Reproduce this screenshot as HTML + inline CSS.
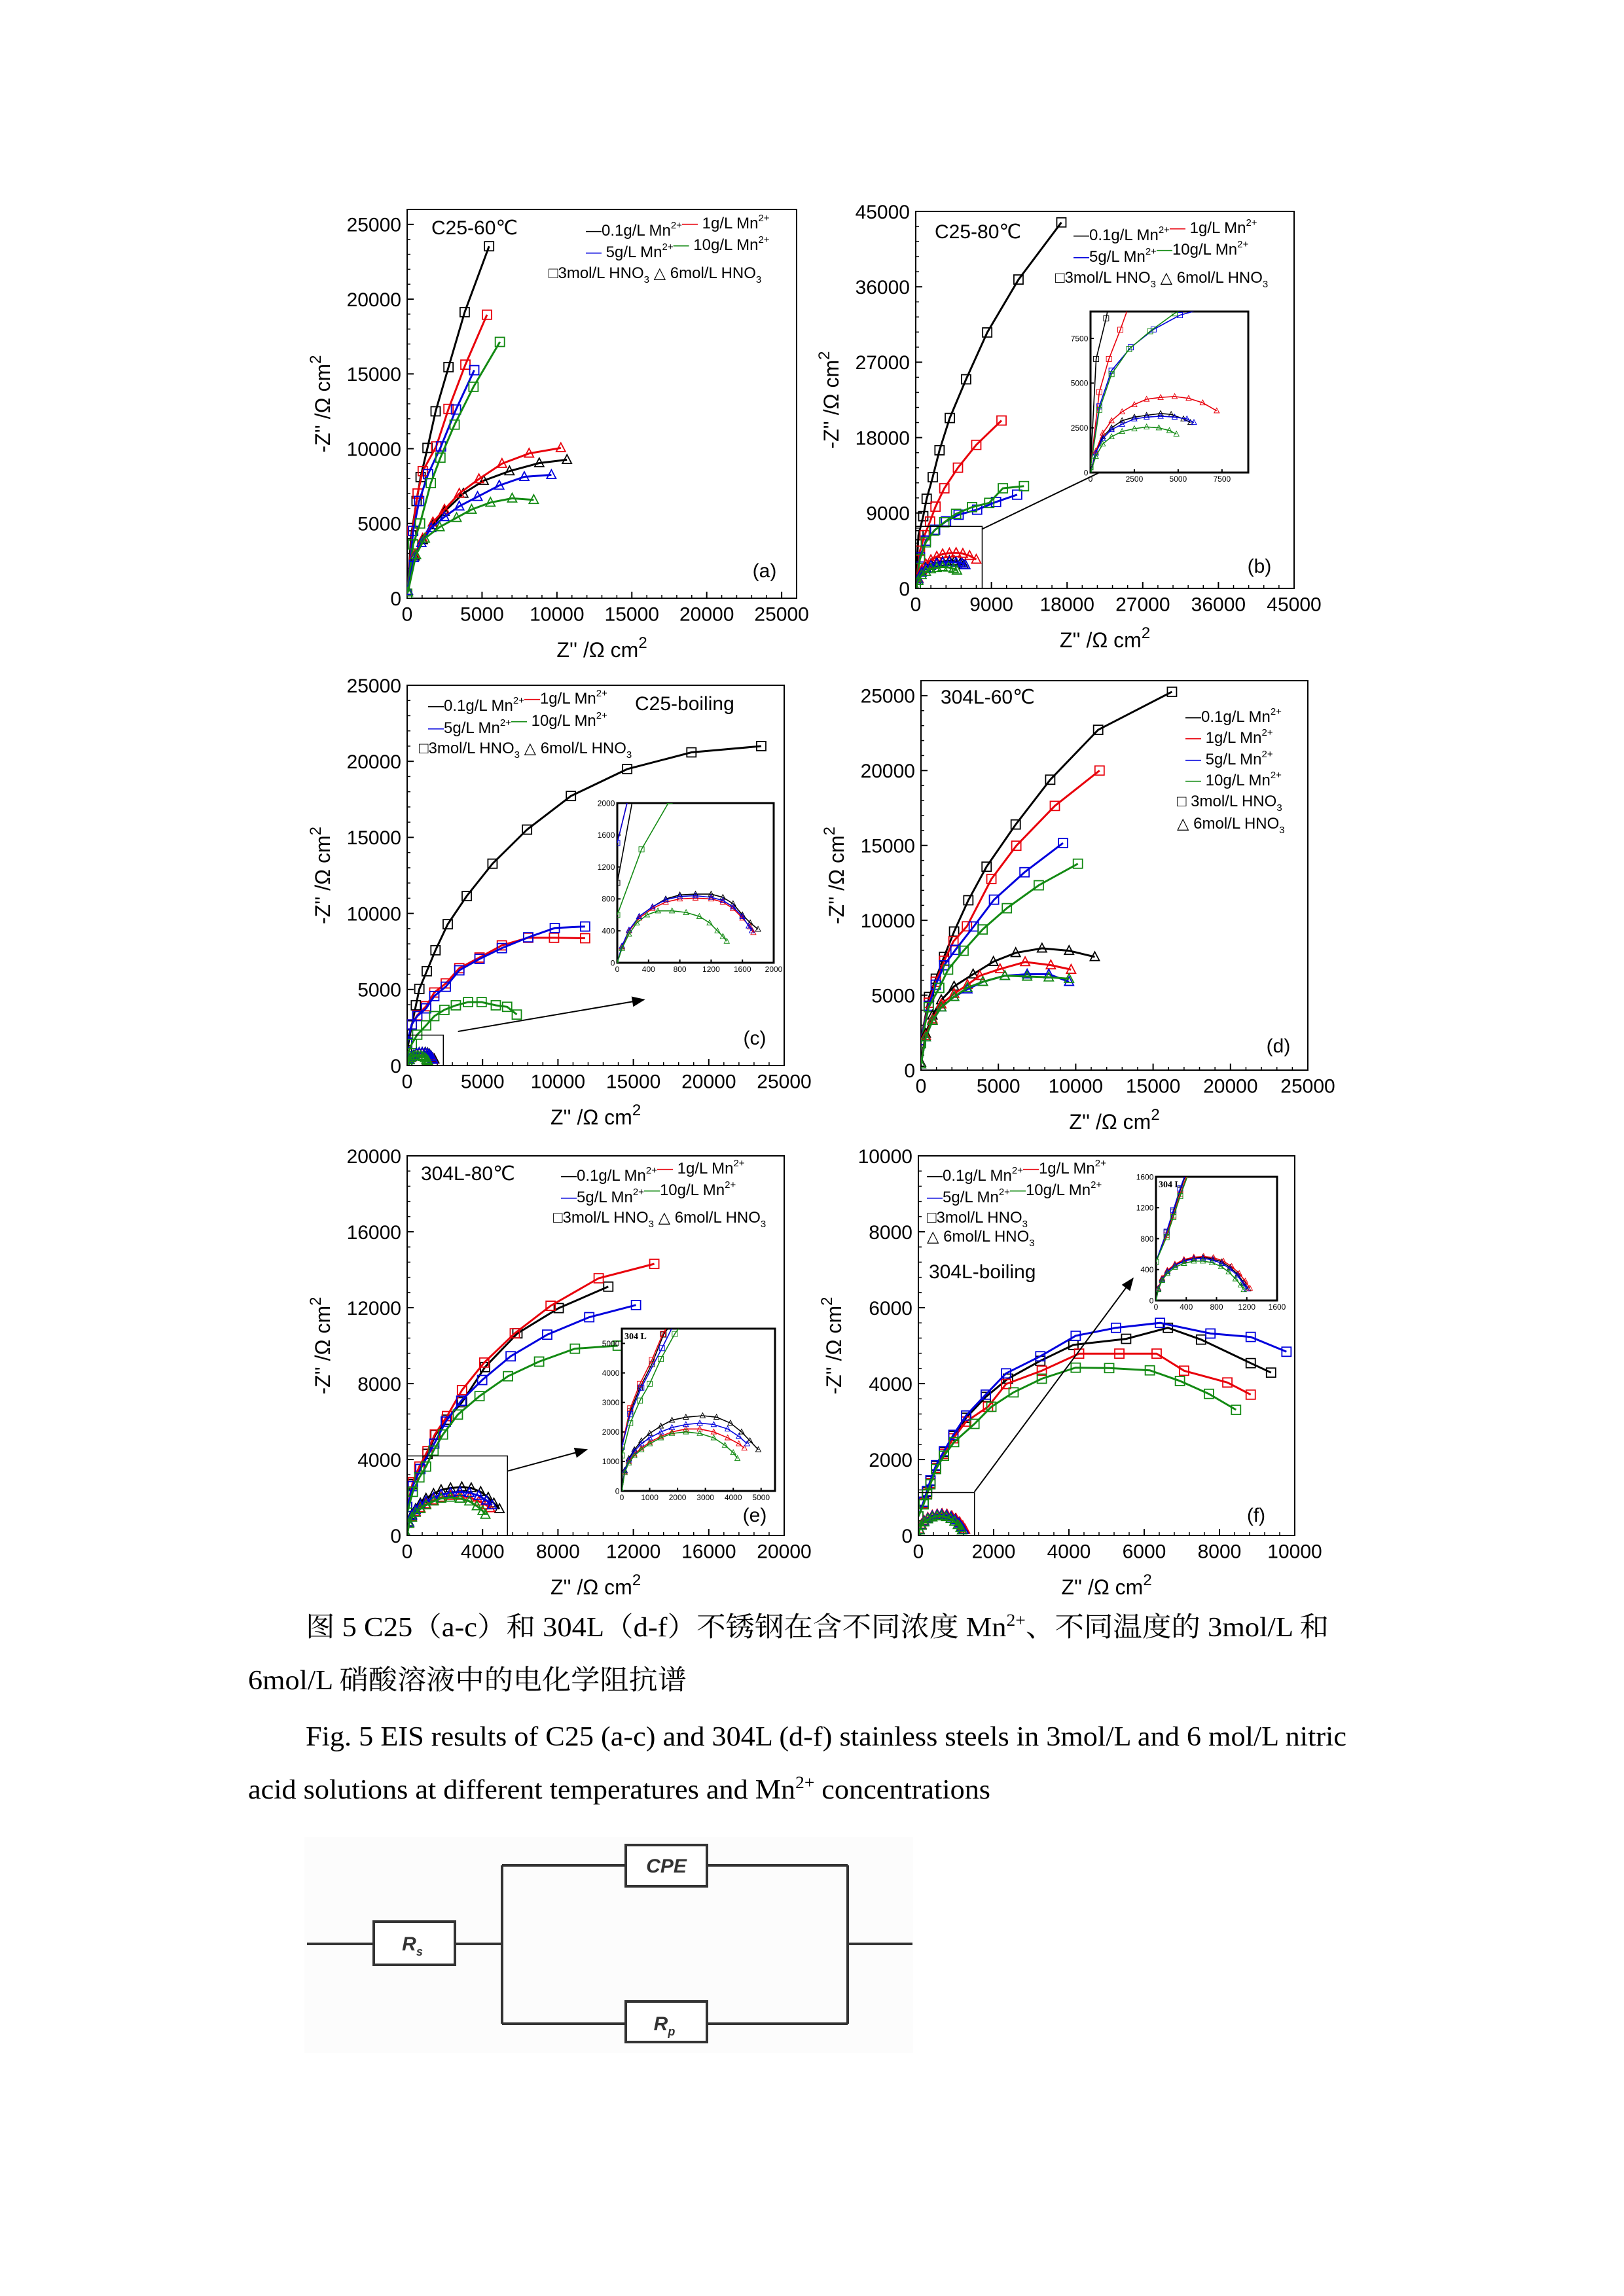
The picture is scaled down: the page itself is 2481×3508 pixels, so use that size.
<!DOCTYPE html>
<html><head><meta charset="utf-8"><style>
html,body{margin:0;padding:0;background:#fff;}
svg{display:block;}
</style></head><body>
<svg id="page" xmlns="http://www.w3.org/2000/svg" width="2481" height="3508" viewBox="0 0 2481 3508" font-family="Liberation Sans, sans-serif">
<rect x="0" y="0" width="2481" height="3508" fill="#fff"/>
<g id="charts"></g>
<g transform="translate(0,-21)" font-family="Liberation Serif, Noto Serif CJK SC, serif" font-size="42" fill="#000">
<text x="467" y="2521" textLength="1563" lengthAdjust="spacingAndGlyphs">图 5 C25（a-c）和 304L（d-f）不锈钢在含不同浓度 Mn<tspan font-size="26" dy="-16">2+</tspan><tspan dy="16">、不同温度的 3mol/L 和</tspan></text>
<text x="379" y="2602" textLength="670" lengthAdjust="spacingAndGlyphs">6mol/L 硝酸溶液中的电化学阻抗谱</text>
<text x="467" y="2688" textLength="1590" lengthAdjust="spacingAndGlyphs">Fig. 5 EIS results of C25 (a-c) and 304L (d-f) stainless steels in 3mol/L and 6 mol/L nitric</text>
<text x="379" y="2769" textLength="1134" lengthAdjust="spacingAndGlyphs">acid solutions at different temperatures and Mn<tspan font-size="26" dy="-16">2+</tspan><tspan dy="16"> concentrations</tspan></text>
</g>
<g transform="translate(0,-23)">
<g stroke="#333" stroke-width="4" fill="none">
<rect x="465" y="2830" width="930" height="330" fill="#fcfcfc" stroke="none"/>
<line x1="469" y1="2993" x2="571" y2="2993"/>
<rect x="571" y="2959" width="124" height="66" fill="#fff"/>
<line x1="695" y1="2993" x2="767" y2="2993"/>
<line x1="767" y1="2873" x2="767" y2="3115"/>
<line x1="767" y1="2873" x2="956" y2="2873"/>
<rect x="956" y="2842" width="124" height="63" fill="#fff"/>
<line x1="1080" y1="2873" x2="1295" y2="2873"/>
<line x1="767" y1="3115" x2="956" y2="3115"/>
<rect x="956" y="3081" width="124" height="62" fill="#fff"/>
<line x1="1080" y1="3115" x2="1295" y2="3115"/>
<line x1="1295" y1="2873" x2="1295" y2="3115"/>
<line x1="1295" y1="2993" x2="1394" y2="2993"/>
</g>
<g font-family="Liberation Sans, sans-serif" font-weight="bold" font-style="italic" font-size="30" fill="#333" text-anchor="middle">
<text x="630" y="3003">R<tspan font-size="18" dy="8">s</tspan></text>
<text x="1018" y="2884">CPE</text>
<text x="1015" y="3125">R<tspan font-size="18" dy="8">p</tspan></text>
</g>
</g>
</svg>
<script>
// ---------- data: [Z', -Z''] pairs ----------
// Panel a (C25-60C)
const a_k3=[[0,200],[270,4200],[630,6500],[900,8100],[1360,10050],[1900,12500],[2760,15450],[3840,19130],[5470,23540]];
const a_r3=[[0,200],[350,4500],[700,7000],[1040,8500],[1940,10150],[2760,12660],[3890,15620],[5330,18960]];
const a_b3=[[0,200],[400,4500],[800,6500],[1400,8300],[2260,10150],[3260,12620],[4480,15250]];
const a_g3=[[0,300],[400,3600],[860,5000],[1580,7700],[2220,9400],[3170,11610],[4430,14140],[6190,17140]];
const a_k6=[[50,500],[500,2800],[1040,3900],[1720,4900],[2490,5800],[3750,7000],[5110,7860],[6830,8500],[8820,9040],[10670,9260]];
const a_r6=[[50,500],[500,2900],[1040,4000],[1720,5080],[2490,5930],[3480,7000],[4790,7970],[6330,9000],[8140,9680],[10260,10050]];
const a_b6=[[50,500],[450,2700],[950,3700],[1600,4700],[2490,5440],[3480,6150],[4700,6790],[6150,7540],[7820,8120],[9630,8250]];
const a_g6=[[50,400],[590,2900],[1180,4000],[2170,4760],[3300,5380],[4300,5930],[5560,6400],[7010,6680],[8450,6580]];
// Panel b (C25-80C)
const b_k3=[[0,300],[320,6350],[890,8620],[1300,10700],[2020,13270],[2830,16490],[4050,20340],[5990,24960],[8500,30550],[12220,36870],[17320,43690]];
const b_r3=[[0,300],[500,4500],[1050,6350],[1700,7980],[2350,9760],[3400,11950],[5020,14410],[7200,17130],[10200,20040]];
const b_b3=[[0,300],[500,3700],[1200,5700],[2300,7000],[3600,8000],[5100,8800],[7300,9400],[9550,10320],[12060,11190]];
const b_g3=[[0,300],[500,3500],[1200,5500],[2200,6900],[3400,7900],[4800,8900],[6700,9700],[8740,10210],[10360,11950],[12870,12210]];
const b_k6=[[0,0],[300,1100],[700,2000],[1200,2500],[1800,2900],[2500,3100],[3200,3200],[4000,3300],[4600,3250],[5300,3000],[5700,2800]];
const b_r6=[[0,0],[300,1200],[700,2200],[1200,2900],[1800,3400],[2500,3800],[3200,4100],[4000,4200],[4800,4250],[5600,4150],[6400,3900],[7200,3450]];
const b_b6=[[0,0],[300,1100],[700,1900],[1200,2400],[1800,2700],[2500,3000],[3200,3100],[4000,3150],[4800,3100],[5500,3000],[5900,2800]];
const b_g6=[[0,0],[300,900],[700,1600],[1200,2000],[1800,2300],[2500,2450],[3200,2550],[3900,2500],[4500,2350],[4900,2150]];
// Panel c (C25-boiling)
const c_k3=[[0,1000],[310,2640],[580,3960],[810,5040],[1300,6200],[1880,7580],[2690,9290],[3950,11140],[5660,13270],[7950,15510],[10860,17720],[14590,19490],[18850,20590],[23480,21000]];
const c_r3=[[0,1500],[300,2700],[670,3300],[1260,3900],[1800,4800],[2560,5400],[3460,6400],[4800,7100],[6280,7900],[8030,8400],[9740,8400],[11800,8370]];
const c_b3=[[0,1500],[300,2700],[670,3250],[1260,3760],[1800,4570],[2560,5180],[3460,6260],[4800,7010],[6280,7720],[8030,8430],[9790,9040],[11800,9140]];
const c_g3=[[0,600],[310,1420],[670,2030],[1260,2640],[1800,3250],[2470,3660],[3230,3960],[4040,4170],[4940,4170],[5880,3960],[6630,3860],[7270,3350]];
const c_k6=[[0,0],[60,200],[150,400],[280,580],[450,700],[620,800],[800,850],[1000,860],[1200,860],[1350,820],[1480,740],[1600,600],[1700,500],[1800,420]];
const c_r6=[[0,0],[60,200],[150,400],[280,560],[450,680],[620,760],[800,800],[1000,810],[1200,800],[1350,760],[1480,680],[1600,560],[1700,450],[1740,380]];
const c_b6=[[0,0],[60,210],[150,410],[280,580],[450,700],[620,790],[800,830],[1000,840],[1200,820],[1350,780],[1480,700],[1600,580],[1680,460],[1720,400]];
const c_g6=[[0,0],[60,180],[150,360],[250,500],[380,600],[520,650],[700,650],[880,630],[1050,580],[1180,500],[1280,400],[1350,330],[1400,270]];
// Panel d (304L-60C)
const d_k3=[[0,2000],[520,4880],[960,6100],[1490,7560],[2140,9250],[3060,11340],[4240,13580],[6120,16400],[8350,19390],[11450,22720],[16220,25260]];
const d_r3=[[0,2000],[500,4500],[950,5900],[1500,7300],[2100,8600],[2970,9600],[4550,12760],[6160,14980],[8650,17640],[11540,20000]];
const d_b3=[[0,2000],[500,4300],[950,5700],[1500,7000],[2230,8030],[3410,9590],[4720,11380],[6690,13210],[9180,15160]];
const d_g3=[[0,1800],[500,4200],[1180,5490],[1750,6710],[2750,7970],[3980,9390],[5550,10810],[7610,12340],[10140,13780]];
const d_k6=[[0,500],[310,2440],[740,3660],[1310,4680],[2140,5590],[3370,6400],[4680,7240],[6120,7830],[7820,8130],[9570,7970],[11230,7560]];
const d_r6=[[0,400],[310,2300],[740,3400],[1310,4400],[2140,5100],[3000,5700],[3800,6300],[5110,6750],[6730,7220],[8390,7010],[9700,6710]];
const d_b6=[[0,400],[310,2200],[740,3300],[1310,4200],[2140,4900],[3000,5400],[4000,5900],[5420,6300],[6860,6400],[8260,6400],[9570,5900]];
const d_g6=[[0,400],[310,2200],[740,3300],[1310,4200],[2140,4900],[3000,5500],[4000,5900],[5420,6300],[6860,6250],[8260,6200],[9570,6100]];
// Panel e (304L-80C)
const e_k3=[[0,1500],[300,2700],[650,3500],[1080,4300],[1500,5300],[2100,6100],[2910,7020],[4130,8870],[5850,10650],[8040,11980],[10670,13110]];
const e_r3=[[0,1500],[300,2800],[650,3630],[1080,4440],[1470,5320],[2120,6290],[2910,7660],[4090,9110],[5710,10650],[7610,12100],[10160,13550],[13110,14310]];
const e_b3=[[0,1500],[300,2600],[700,3500],[1440,4840],[2050,6000],[2870,7100],[3980,8190],[5490,9440],[7430,10580],[9660,11500],[12140,12140]];
const e_g3=[[0,1200],[300,2300],[650,3060],[1000,3630],[1400,4470],[1900,5320],[2690,6370],[3840,7340],[5350,8390],[7000,9160],[8900,9840],[11170,10000]];
const e_k6=[[0,0],[100,700],[250,1100],[450,1400],[700,1700],[1000,1950],[1400,2200],[1800,2400],[2300,2500],[2900,2550],[3400,2500],[3900,2300],[4300,2000],[4600,1700],[4900,1400]];
const e_r6=[[0,0],[100,650],[250,1000],[450,1250],[700,1450],[1000,1650],[1400,1850],[1800,2000],[2300,2100],[2800,2100],[3300,2000],[3800,1800],[4200,1600],[4400,1450]];
const e_b6=[[0,0],[100,680],[250,1050],[450,1350],[700,1600],[1000,1800],[1400,2000],[1800,2150],[2300,2250],[2800,2300],[3300,2250],[3800,2100],[4200,1850],[4500,1600]];
const e_g6=[[0,0],[100,620],[250,950],[450,1200],[700,1400],[1000,1600],[1400,1800],[1800,1950],[2300,2000],[2800,1950],[3300,1800],[3700,1550],[4000,1300],[4150,1100]];
// Panel f (304L-boiling)
const f_k3=[[0,500],[140,880],[230,1150],[320,1430],[470,1830],[680,2200],[930,2620],[1270,3100],[1790,3650],[2380,4130],[3240,4600],[4120,5020],[5520,5180],[6630,5470],[7510,5160],[8830,4540],[9370,4290]];
const f_r3=[[0,500],[140,850],[230,1100],[320,1380],[470,1780],[680,2150],[930,2560],[1270,3000],[1850,3390],[2330,3990],[3280,4340],[4270,4790],[5340,4790],[6330,4790],[7060,4340],[8210,4030],[8830,3710]];
const f_b3=[[0,500],[140,890],[230,1170],[320,1450],[470,1850],[680,2220],[930,2650],[1270,3160],[1790,3710],[2330,4270],[3240,4720],[4180,5260],[5250,5470],[6420,5600],[7760,5320],[8830,5230],[9780,4840]];
const f_g3=[[0,500],[140,820],[230,1080],[320,1350],[470,1750],[680,2100],[950,2460],[1490,2940],[1940,3390],[2530,3770],[3280,4130],[4180,4420],[5070,4410],[6150,4350],[6950,4070],[7720,3730],[8440,3310]];
const f_k6=[[0,0],[30,150],[80,280],[150,380],[250,460],[370,520],[500,550],[620,560],[750,540],[870,500],[980,430],[1080,340],[1160,230],[1220,150]];
const f_r6=[[0,0],[30,160],[80,290],[150,390],[250,470],[370,530],[500,560],[630,570],[760,555],[890,510],[1000,440],[1100,350],[1180,250],[1240,160]];
const f_b6=[[0,0],[30,150],[80,270],[150,370],[250,450],[370,510],[500,540],[620,545],[750,525],[870,480],[980,410],[1080,320],[1150,220],[1200,150]];
const f_g6=[[0,0],[30,140],[80,260],[150,350],[250,430],[370,480],[500,510],[620,510],[740,490],[860,440],[960,370],[1050,280],[1120,200],[1160,140]];
// tick labels
const ticksA=[0,5000,10000,15000,20000,25000];
const ticksB=[0,9000,18000,27000,36000,45000];
const ticksE=[0,4000,8000,12000,16000,20000];
const ticksF=[0,2000,4000,6000,8000,10000];
const insetTicksB=[0,2500,5000,7500];
const insetTicksC=[0,400,800,1200,1600,2000];
const insetTicksE=[0,1000,2000,3000,4000,5000];
const insetTicksF=[0,400,800,1200,1600];

const PANEL_SERIES={
 a:[a_k3,a_r3,a_b3,a_g3,a_k6,a_r6,a_b6,a_g6],
 b:[b_k3,b_r3,b_b3,b_g3,b_k6,b_r6,b_b6,b_g6],
 c:[c_k3,c_r3,c_b3,c_g3,c_k6,c_r6,c_b6,c_g6],
 d:[d_k3,d_r3,d_b3,d_g3,d_k6,d_r6,d_b6,d_g6],
 e:[e_k3,e_r3,e_b3,e_g3,e_k6,e_r6,e_b6,e_g6],
 f:[f_k3,f_r3,f_b3,f_g3,f_k6,f_r6,f_b6,f_g6]
};

const NS='http://www.w3.org/2000/svg';
const COL={k:'#000000',r:'#e8000b',b:'#0000dd',g:'#138a13'};
const root=document.getElementById('charts');
function mk(tag,attrs,parent){const el=document.createElementNS(NS,tag);for(const k in attrs)el.setAttribute(k,attrs[k]);parent.appendChild(el);return el;}

function seriesSet(p){const s=PANEL_SERIES[p];return [
 {d:s[0],c:'k',m:'sq',n:'0.1g-3mol'},{d:s[1],c:'r',m:'sq',n:'1g-3mol'},
 {d:s[2],c:'b',m:'sq',n:'5g-3mol'},{d:s[3],c:'g',m:'sq',n:'10g-3mol'},
 {d:s[4],c:'k',m:'tri',n:'0.1g-6mol'},{d:s[5],c:'r',m:'tri',n:'1g-6mol'},
 {d:s[6],c:'b',m:'tri',n:'5g-6mol'},{d:s[7],c:'g',m:'tri',n:'10g-6mol'}];}

let clipId=0;
function plotSeries(g,P,sers,ms,lw,pre){
 const cid='clip'+(clipId++);
 const cp=mk('clipPath',{id:cid},g);
 mk('rect',{x:P.L,y:P.T,width:P.R-P.L,height:P.B-P.T},cp);
 const sg=mk('g',{'clip-path':'url(#'+cid+')'},g);
 
 
 const sx=v=>P.L+(v-P.x0)/(P.x1-P.x0)*(P.R-P.L);
 const sy=v=>P.B-(v-P.y0)/(P.y1-P.y0)*(P.B-P.T);
 sers.forEach(s=>{
  const col=COL[s.c];
  const pts=s.d.map(q=>sx(q[0]).toFixed(1)+','+sy(q[1]).toFixed(1)).join(' ');
  const pl=mk('polyline',{points:pts,fill:'none',stroke:col,'stroke-width':lw},sg);
  
  
  s.d.forEach(q=>{
   const cx=sx(q[0]),cy=sy(q[1]);let mkr;
   if(s.m==='sq') mkr=mk('rect',{x:cx-ms,y:cy-ms,width:2*ms,height:2*ms,fill:'none',stroke:col,'stroke-width':lw*0.6},sg);
   else mkr=mk('polygon',{points:cx+','+(cy-ms*1.1)+' '+(cx-ms)+','+(cy+ms*0.8)+' '+(cx+ms)+','+(cy+ms*0.8),fill:'none',stroke:col,'stroke-width':lw*0.6},sg);
   
   
  });
 });
}

function axes(g,P,xt,yt,fs,pre,minor){
 const sx=v=>P.L+(v-P.x0)/(P.x1-P.x0)*(P.R-P.L);
 const sy=v=>P.B-(v-P.y0)/(P.y1-P.y0)*(P.B-P.T);
 const box=mk('rect',{x:P.L,y:P.T,width:P.R-P.L,height:P.B-P.T,fill:'#fff',stroke:'#000','stroke-width':P.bw||2},g);
 
 
 const tl=P.tl||10;
 xt.forEach((v,i)=>{
  const X=sx(v);
  mk('line',{x1:X,y1:P.B,x2:X,y2:P.B-tl,stroke:'#000','stroke-width':2},g);
  const t=mk('text',{x:X,y:P.B+fs*1.15,'font-size':fs,'text-anchor':'middle'},g);
  t.textContent=v;
  
  
  if(minor&&i<xt.length-1){for(let k=1;k<5;k++){const mx=sx(v+(xt[i+1]-v)*k/5);mk('line',{x1:mx,y1:P.B,x2:mx,y2:P.B-tl/2,stroke:'#000','stroke-width':1.5},g);}}
 });
 yt.forEach((v,i)=>{
  const Y=sy(v);
  mk('line',{x1:P.L,y1:Y,x2:P.L+tl,y2:Y,stroke:'#000','stroke-width':2},g);
  const t=mk('text',{x:P.L-fs*0.3,y:Y+fs*0.36,'font-size':fs,'text-anchor':'end'},g);
  t.textContent=v;
  
  
  if(minor&&i<yt.length-1){for(let k=1;k<5;k++){const my=sy(v+(yt[i+1]-v)*k/5);mk('line',{x1:P.L,y1:my,x2:P.L+tl/2,y2:my,stroke:'#000','stroke-width':1.5},g);}}
 });
}

function legendLine(g,x,y,parts,fs,name){
 const t=mk('text',{x:x,y:y,'font-size':fs},g);
 
 
 parts.forEach(p=>{const ts=mk('tspan',p.a||{},t);if(p.c)ts.setAttribute('fill',COL[p.c]);ts.textContent=p.t;});
}
const SUP={'font-size':15,dy:-11};const UN={dy:11};
function mnParts(c1,l1,c2,l2){const r=[{t:'—',c:c1},{t:l1+' Mn'},{t:'2+',a:SUP},{t:'',a:UN}];if(c2){r.push({t:'—',c:c2},{t:l2+' Mn'},{t:'2+',a:SUP},{t:'',a:UN});}return r;}
const acidParts=[{t:'□3mol/L HNO'},{t:'3',a:{'font-size':15,dy:7}},{t:' △ 6mol/L HNO',a:{dy:-7}},{t:'3',a:{'font-size':15,dy:7}}];

function panel(P){
 const g=mk('g',{},root);
 
 
 axes(g,P,P.xt,P.yt,30,'panel-'+P.id,true);
 plotSeries(g,P,seriesSet(P.id),7,3,'panel-'+P.id);
 const xtitle=mk('text',{x:(P.L+P.R)/2,y:P.B+90,'font-size':32,'text-anchor':'middle'},g);
 
 
 xtitle.appendChild(document.createTextNode('Z\'\' /Ω cm'));
 const xs=mk('tspan',{'font-size':24,dy:-14},xtitle); xs.textContent='2';
 const cy=(P.T+P.B)/2, cx=P.L-118;
 const ytitle=mk('text',{x:cx,y:cy,'font-size':32,'text-anchor':'middle',transform:'rotate(-90 '+cx+' '+cy+')'},g);
 
 
 ytitle.appendChild(document.createTextNode('-Z\'\' /Ω cm'));
 const ys=mk('tspan',{'font-size':24,dy:-14},ytitle); ys.textContent='2';
 const lab=mk('text',{x:P.lab[0],y:P.lab[1],'font-size':30,'text-anchor':'middle'},g);
 lab.textContent='('+P.id+')';
 
 
 const ttl=mk('text',{x:P.title[0],y:P.title[1],'font-size':30},g);
 ttl.textContent=P.title[2];
 
 
 P.legend(g);
 if(P.zoom){
  const sx=v=>P.L+(v-P.x0)/(P.x1-P.x0)*(P.R-P.L);
  const sy=v=>P.B-(v-P.y0)/(P.y1-P.y0)*(P.B-P.T);
  const z=P.zoom;
  const zr=mk('rect',{x:sx(0),y:sy(z.h),width:sx(z.w)-sx(0),height:sy(0)-sy(z.h),fill:'none',stroke:'#000','stroke-width':1.5},g);
  
  
  const ar=mk('line',{x1:sx(z.a[0]),y1:sy(z.a[1]),x2:sx(z.a[2]),y2:sy(z.a[3]),stroke:'#000','stroke-width':2,'marker-end':'url(#arrowhead)'},g);
  
  
 }
 if(P.inset){
  const I=P.inset;
  const ig=mk('g',{},g);
  
  
  I.bw=3;I.tl=5;
  axes(ig,I,I.xt,I.yt,12,'panel-'+P.id+'-inset',false);
  plotSeries(ig,I,seriesSet(P.id),4,1.6,'panel-'+P.id+'-inset');
  if(I.tag){const it=mk('text',{x:I.L+4,y:I.T+16,'font-size':14,'font-family':'Liberation Serif, serif','font-weight':'bold'},ig);it.textContent=I.tag;
   
   }
 }
}
const defs=mk('defs',{},root);
const mrk=mk('marker',{id:'arrowhead',markerWidth:10,markerHeight:8,refX:9,refY:4,orient:'auto',markerUnits:'strokeWidth'},defs);
mk('path',{d:'M0,0 L10,4 L0,8 Z',fill:'#000'},mrk);

const FS=24;
panel({id:'a',L:622,R:1217,T:320,B:914,x0:0,x1:26000,y0:0,y1:26000,xt:ticksA,yt:ticksA,lab:[1168,882],title:[659,358,'C25-60℃'],
 legend:g=>{legendLine(g,895,360,mnParts('k','0.1g/L','r',' 1g/L'),FS,'legend-a-row1');legendLine(g,895,393,mnParts('b',' 5g/L','g',' 10g/L'),FS,'legend-a-row2');legendLine(g,838,425,acidParts,FS,'legend-a-row3');}});
panel({id:'b',L:1399,R:1977,T:323,B:899,x0:0,x1:45000,y0:0,y1:45000,xt:ticksB,yt:ticksB,lab:[1924,875],title:[1428,364,'C25-80℃'],
 zoom:{w:7900,h:7400,a:[7930,7100,25300,15500]},
 inset:{L:1666,R:1907,T:476,B:722,x0:0,x1:9000,y0:0,y1:9000,xt:insetTicksB,yt:insetTicksB},
 legend:g=>{legendLine(g,1640,367,mnParts('k','0.1g/L','r',' 1g/L'),FS,'legend-b-row1');legendLine(g,1640,400,mnParts('b','5g/L','g','10g/L'),FS,'legend-b-row2');legendLine(g,1612,432,acidParts,FS,'legend-b-row3');}});
panel({id:'c',L:622,R:1198,T:1047,B:1628,x0:0,x1:25000,y0:0,y1:25000,xt:ticksA,yt:ticksA,lab:[1153,1596],title:[970,1085,'C25-boiling'],
 zoom:{w:2400,h:2000,a:[3370,2240,15700,4330]},
 inset:{L:943,R:1182,T:1227,B:1471,x0:0,x1:2000,y0:0,y1:2000,xt:insetTicksC,yt:insetTicksC},
 legend:g=>{legendLine(g,654,1086,mnParts('k','0.1g/L','r','1g/L'),FS,'legend-c-row1');legendLine(g,654,1120,mnParts('b','5g/L','g',' 10g/L'),FS,'legend-c-row2');legendLine(g,640,1151,acidParts,FS,'legend-c-row3');}});
panel({id:'d',L:1407,R:1998,T:1040,B:1635,x0:0,x1:25000,y0:0,y1:26000,xt:ticksA,yt:ticksA,lab:[1953,1608],title:[1437,1075,'304L-60℃'],
 legend:g=>{legendLine(g,1811,1103,mnParts('k','0.1g/L'),FS,'legend-d-row1');legendLine(g,1811,1135,mnParts('r',' 1g/L'),FS,'legend-d-row2');legendLine(g,1811,1168,mnParts('b',' 5g/L'),FS,'legend-d-row3');legendLine(g,1811,1200,mnParts('g',' 10g/L'),FS,'legend-d-row4');
  legendLine(g,1798,1232,[{t:'□ 3mol/L HNO'},{t:'3',a:{'font-size':15,dy:7}}],FS,'legend-d-row5');legendLine(g,1798,1266,[{t:'△ 6mol/L HNO'},{t:'3',a:{'font-size':15,dy:7}}],FS,'legend-d-row6');}});
panel({id:'e',L:622,R:1198,T:1766,B:2346,x0:0,x1:20000,y0:0,y1:20000,xt:ticksE,yt:ticksE,lab:[1153,2325],title:[643,1803,'304L-80℃'],
 zoom:{w:5320,h:4190,a:[5320,3390,9520,4520]},
 inset:{L:950,R:1184,T:2030,B:2278,x0:0,x1:5500,y0:0,y1:5500,xt:insetTicksE,yt:insetTicksE,tag:'304 L'},
 legend:g=>{legendLine(g,857,1804,mnParts('k','0.1g/L','r',' 1g/L'),FS,'legend-e-row1');legendLine(g,857,1837,mnParts('b','5g/L','g','10g/L'),FS,'legend-e-row2');legendLine(g,845,1868,acidParts,FS,'legend-e-row3');}});
panel({id:'f',L:1403,R:1978,T:1766,B:2346,x0:0,x1:10000,y0:0,y1:10000,xt:ticksF,yt:ticksF,lab:[1919,2325],title:[1419,1953,'304L-boiling'],
 zoom:{w:1490,h:1130,a:[1490,1150,5700,6770]},
 inset:{L:1766,R:1951,T:1798,B:1987,x0:0,x1:1600,y0:0,y1:1600,xt:insetTicksF,yt:insetTicksF,tag:'304 L'},
 legend:g=>{legendLine(g,1416,1804,mnParts('k','0.1g/L','r','1g/L'),FS,'legend-f-row1');legendLine(g,1416,1837,mnParts('b','5g/L','g','10g/L'),FS,'legend-f-row2');
  legendLine(g,1416,1868,[{t:'□3mol/L HNO'},{t:'3',a:{'font-size':15,dy:7}}],FS,'legend-f-row3');legendLine(g,1416,1897,[{t:'△ 6mol/L HNO'},{t:'3',a:{'font-size':15,dy:7}}],FS,'legend-f-row4');}});
</script>
</body></html>
